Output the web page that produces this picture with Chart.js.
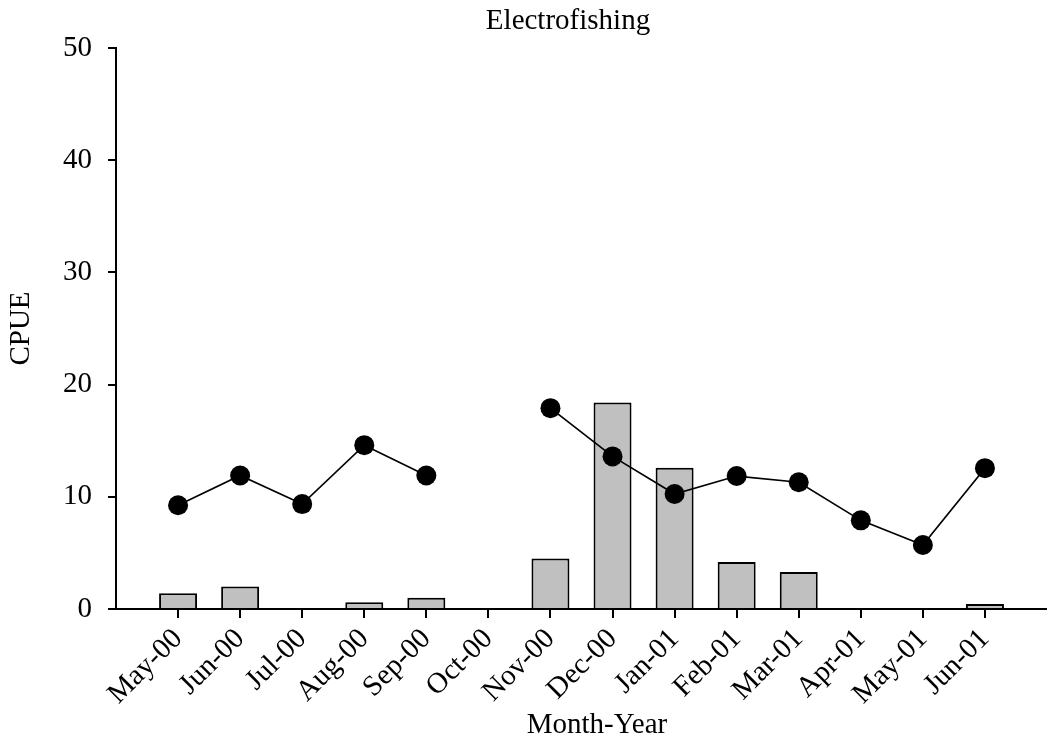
<!DOCTYPE html>
<html>
<head>
<meta charset="utf-8">
<script src="https://cdn.jsdelivr.net/npm/chart.js@4/dist/chart.umd.min.js"></script>
<style>
  html, body { margin: 0; padding: 0; background: #fff; }
  #wrap { width: 1047px; height: 742px; }
</style>
</head>
<body>
<div id="wrap"><canvas id="chart1"></canvas></div>
<script>
// empty labels at both ends give the full-category gap the original has
var months = ['', 'May-00', 'Jun-00', 'Jul-00', 'Aug-00', 'Sep-00', 'Oct-00', 'Nov-00',
  'Dec-00', 'Jan-01', 'Feb-01', 'Mar-01', 'Apr-01', 'May-01', 'Jun-01', ''];
var barValues = [null, 1.4, 2.0, 0, 0.6, 1.0, 0, 4.5, 18.4, 12.6, 4.2, 3.3, 0, 0, 0.45, null];
var lineValues = [null, 9.25, 11.9, 9.35, 14.6, 11.9, null, 17.9, 13.6, 10.25, 11.85, 11.3, 7.9, 5.7, 12.55, null];
var yTicks = [0, 10, 20, 30, 40, 50];

Chart.defaults.font.family = "'Liberation Serif', 'Times New Roman', serif";
Chart.defaults.font.size = 29;
Chart.defaults.color = '#000';

// chart title and x title sit a bit right of centre in the original
var textPlugin = {
  id: 'plotTexts',
  afterDraw: function(chart) {
    var ctx = chart.ctx;
    ctx.save();
    ctx.font = "29px 'Liberation Serif'";
    ctx.fillStyle = '#000';
    ctx.textAlign = 'center';
    ctx.textBaseline = 'alphabetic';
    ctx.fillText('Electrofishing', 568, 29);
    ctx.fillText('Month-Year', 597, 733);
    ctx.restore();
  }
};

var chart1 = new Chart('chart1', {
  type: 'bar',
  plugins: [textPlugin],
  data: {
    labels: months,
    datasets: [
      {
        type: 'line',
        label: 'CPUE line',
        data: lineValues,
        borderColor: '#000',
        borderWidth: 1.7,
        backgroundColor: '#000',
        pointRadius: 10,
        pointBackgroundColor: '#000',
        pointBorderWidth: 0,
        spanGaps: false,
        order: 0
      },
      {
        label: 'CPUE bars',
        data: barValues,
        backgroundColor: '#c0c0c0',
        borderColor: '#000',
        borderWidth: 2,
        categoryPercentage: 1,
        barPercentage: 0.612,
        order: 1
      }
    ]
  },
  options: {
    responsive: true,
    maintainAspectRatio: false,
    animation: false,
    layout: { autoPadding: false, padding: { top: 48, left: 0, right: 0, bottom: 0 } },
    plugins: {
      legend: { display: false },
      tooltip: { enabled: false }
    },
    scales: {
      x: {
        offset: false,
        grid: {
          offset: false,
          drawOnChartArea: false,
          drawTicks: true,
          tickLength: 9,
          lineWidth: 2,
          color: function(c) {
            return (c.index === 0 || c.index === months.length - 1) ? 'rgba(0,0,0,0)' : '#000';
          }
        },
        border: { display: true, color: '#000', width: 2 },
        ticks: { autoSkip: false, maxRotation: 45, minRotation: 45, padding: 4 },
        afterFit: function(s) {
          s.height = 133;
          s.paddingLeft = 0;
          s.paddingRight = 0;
        }
      },
      y: {
        min: 0,
        max: 50,
        afterBuildTicks: function(s) { s.ticks = yTicks.map(function(v) { return { value: v }; }); },
        grid: { drawOnChartArea: false, drawTicks: true, tickLength: 8, lineWidth: 2, color: '#000' },
        border: { display: true, color: '#000', width: 2 },
        ticks: { padding: 16 },
        title: { display: true, text: 'CPUE', padding: { top: 4, bottom: 0 } },
        afterFit: function(s) { s.width = 116; }
      }
    }
  }
});
</script>
</body>
</html>
